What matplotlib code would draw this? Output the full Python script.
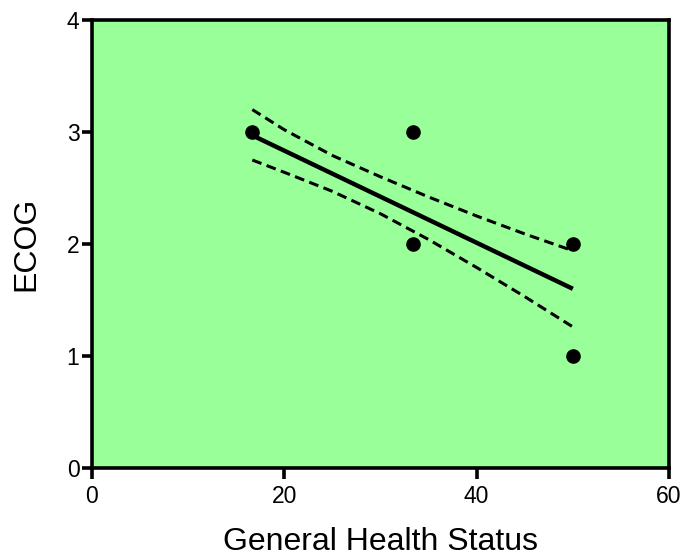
import matplotlib
matplotlib.use("Agg")
import matplotlib.pyplot as plt

# data
pts_x = [16.67, 33.33, 33.33, 50.0, 50.0]
pts_y = [3, 3, 2, 2, 1]

fit_x = [16.67, 50.0]
fit_y = [2.97, 1.60]

band_x = [16.67, 20, 25, 30, 35, 40, 45, 50.0]
band_upper = [3.20, 3.02, 2.79, 2.60, 2.42, 2.25, 2.09, 1.94]
band_lower = [2.75, 2.64, 2.47, 2.27, 2.04, 1.79, 1.53, 1.26]

x_ticks = [0, 20, 40, 60]
y_ticks = [0, 1, 2, 3, 4]

plt.rcParams['font.family'] = ['Liberation Sans', 'DejaVu Sans']

fig = plt.figure(figsize=(6.83, 5.59), dpi=100)
ax = fig.add_axes([92/683, 1-468/559, (669-92)/683, (468-20)/559])
ax.set_facecolor('#99FF99')

ax.plot(band_x, band_upper, color='black', lw=2.2, ls=(0, (3.2, 1.8)))
ax.plot(band_x, band_lower, color='black', lw=2.2, ls=(0, (3.2, 1.8)))
ax.plot(fit_x, fit_y, color='black', lw=3.2, solid_capstyle='butt')
ax.plot(pts_x, pts_y, 'o', color='black', ms=9.5, zorder=5)

ax.set_xlim(0, 60)
ax.set_ylim(0, 4)
ax.set_xticks(x_ticks)
ax.set_yticks(y_ticks)
for s in ax.spines.values():
    s.set_linewidth(2.6)
ax.tick_params(direction='out', length=8, width=2.6, labelsize=16.5, pad=4)
ax.tick_params(axis='y', length=7, pad=2)
ax.set_xlabel('General Health Status', fontsize=23, labelpad=14)
ax.set_ylabel('ECOG', fontsize=23, labelpad=18)

fig.savefig('out.png', dpi=100)
